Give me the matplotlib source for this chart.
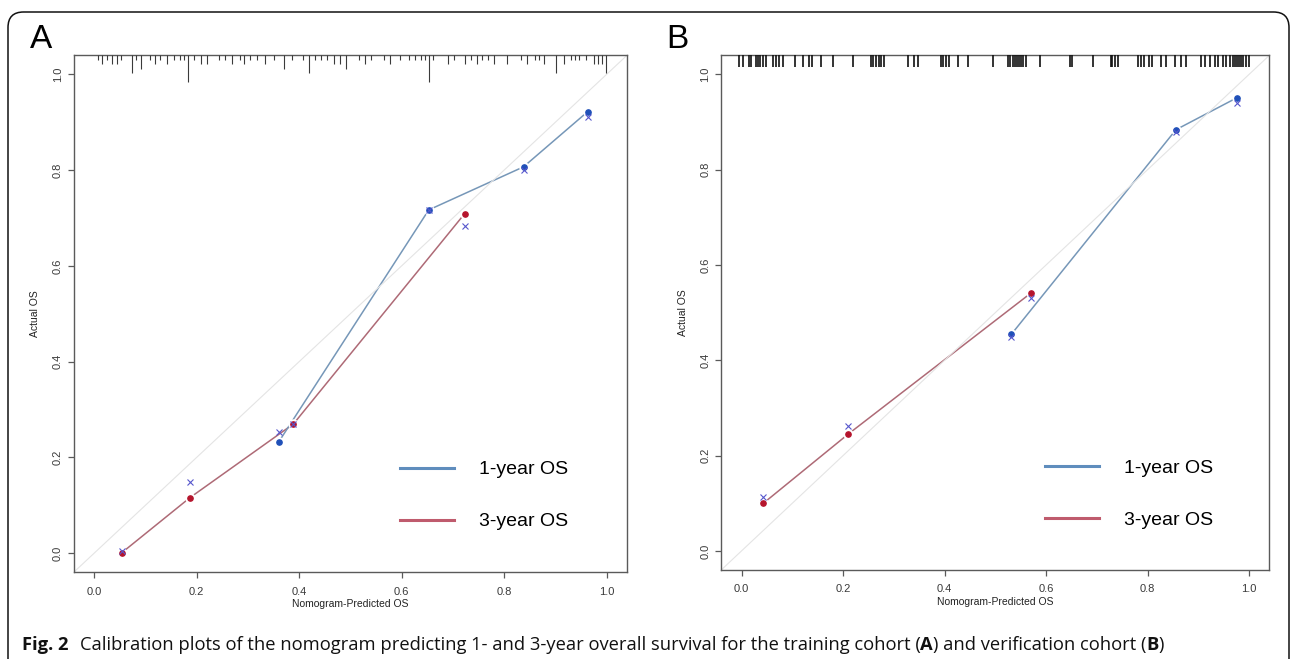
import matplotlib
matplotlib.use("Agg")
import matplotlib.pyplot as plt
from matplotlib.lines import Line2D
from matplotlib.patches import FancyBboxPatch

plt.rcParams['font.family'] = ['Liberation Sans', 'DejaVu Sans']

# ---- training cohort (A)
a_1yr_pred = [0.360, 0.653, 0.838, 0.963]
a_1yr_obs = [0.232, 0.717, 0.807, 0.922]
a_1yr_corr = [0.253, 0.717, 0.801, 0.912]
a_3yr_pred = [0.054, 0.187, 0.389, 0.723]
a_3yr_obs = [0.001, 0.116, 0.270, 0.709]
a_3yr_corr = [0.004, 0.148, 0.270, 0.684]

# distribution of predicted values (rug on top), with relative frequency
a_rug_pos = [0.007, 0.015, 0.025, 0.034, 0.044, 0.053, 0.073, 0.081, 0.091, 0.108,
             0.119, 0.129, 0.142, 0.155, 0.167, 0.175, 0.183, 0.195, 0.208, 0.220,
             0.244, 0.256, 0.269, 0.285, 0.293, 0.305, 0.317, 0.334, 0.350, 0.370,
             0.386, 0.407, 0.419, 0.431, 0.443, 0.455, 0.468, 0.480, 0.492, 0.516,
             0.528, 0.541, 0.565, 0.577, 0.597, 0.614, 0.626, 0.638, 0.646, 0.654,
             0.662, 0.691, 0.703, 0.723, 0.735, 0.748, 0.756, 0.768, 0.780, 0.805,
             0.833, 0.845, 0.861, 0.869, 0.878, 0.902, 0.918, 0.930, 0.938, 0.947,
             0.959, 0.975, 0.983, 0.991, 0.999]
a_rug_freq = [1, 2, 1, 2, 2, 1, 4, 1, 3, 1,
              2, 1, 2, 1, 1, 1, 6, 1, 2, 2,
              1, 1, 2, 1, 2, 1, 1, 2, 1, 3,
              1, 1, 4, 1, 1, 1, 2, 2, 3, 1,
              2, 1, 1, 2, 1, 1, 1, 1, 1, 6,
              1, 2, 1, 2, 1, 2, 1, 1, 2, 2,
              1, 2, 1, 1, 2, 4, 2, 1, 1, 1,
              1, 2, 2, 2, 4]

# ---- verification cohort (B)
b_1yr_pred = [0.532, 0.856, 0.976]
b_1yr_obs = [0.455, 0.884, 0.951]
b_1yr_corr = [0.448, 0.880, 0.941]
b_3yr_pred = [0.043, 0.210, 0.570]
b_3yr_obs = [0.100, 0.245, 0.541]
b_3yr_corr = [0.113, 0.263, 0.530]

b_rug_pos = [-0.004, 0.002, 0.014, 0.018, 0.028, 0.033, 0.036, 0.042, 0.049, 0.063,
             0.068, 0.073, 0.081, 0.105, 0.122, 0.133, 0.139, 0.157, 0.181, 0.220,
             0.256, 0.260, 0.265, 0.270, 0.275, 0.281, 0.329, 0.340, 0.348, 0.394,
             0.398, 0.402, 0.408, 0.426, 0.446, 0.495, 0.526, 0.529, 0.534, 0.538,
             0.543, 0.547, 0.551, 0.555, 0.561, 0.588, 0.648, 0.652, 0.693, 0.728,
             0.731, 0.736, 0.741, 0.782, 0.788, 0.794, 0.802, 0.808, 0.826, 0.836,
             0.854, 0.866, 0.875, 0.905, 0.913, 0.923, 0.933, 0.939, 0.949, 0.955,
             0.963, 0.968, 0.972, 0.976, 0.980, 0.984, 0.988, 0.994, 1.000]

ticks = [0.0, 0.2, 0.4, 0.6, 0.8, 1.0]
tick_labels = ["0.0", "0.2", "0.4", "0.6", "0.8", "1.0"]
series_names = ["1-year OS", "3-year OS"]

blue_line = "#7697b8"
red_line = "#ae6a76"
blue_leg = "#5f8dbd"
red_leg = "#bf5b6d"
blue_dot = "#1f50b8"
red_dot = "#b5142c"
x_col = "#5656cc"

fig = plt.figure(figsize=(12.92, 6.59), dpi=100)
W, H = 1292, 659


def px_axes(l, t, r, b):
    return fig.add_axes([l / W, 1 - b / H, (r - l) / W, (b - t) / H])


def calib(ax, pred, obs, corr, lc, dc):
    ax.plot(pred, obs, color=lc, lw=1.1, zorder=2)
    ax.plot(pred, obs, ls="none", marker="o", ms=7.5, mfc="white", mec="none", zorder=3)
    ax.plot(pred, obs, ls="none", marker="o", ms=3.8, mfc=dc, mec=dc, zorder=4)
    ax.plot(pred, corr, ls="none", marker="x", ms=4.5, mew=0.8, color=x_col, zorder=5)


def style(ax, rug_pos, rug_len, rug_lw, rug_col):
    ax.set_xlim(-0.04, 1.04)
    ax.set_ylim(-0.04, 1.04)
    ax.plot([-0.04, 1.04], [-0.04, 1.04], color="#e4e4e4", lw=0.8, zorder=2.5)
    ax.vlines(rug_pos, [1.04 - h for h in rug_len], 1.04, colors=rug_col, lw=rug_lw, zorder=6)
    for s in ax.spines.values():
        s.set_color("#5a5a5a")
        s.set_linewidth(1.0)
    ax.set_xticks(ticks)
    ax.set_xticklabels(tick_labels)
    ax.set_yticks(ticks)
    ax.set_yticklabels(tick_labels)
    ax.tick_params(length=4.3, width=0.9, color="#5a5a5a", labelsize=8,
                   labelcolor="#3a3a3a")
    ax.tick_params(axis="x", pad=6)
    ax.tick_params(axis="y", pad=3.5, labelrotation=90)
    for lab in ax.get_yticklabels():
        lab.set_va("center")
    ax.set_xlabel("Nomogram-Predicted OS", fontsize=7.5, color="#222222", labelpad=2)
    ax.set_ylabel("Actual OS", fontsize=7.5, color="#222222", labelpad=9)
    handles = [Line2D([], [], color=blue_leg, lw=2.2), Line2D([], [], color=red_leg, lw=2.2)]
    ax.legend(handles, series_names, loc="upper left", frameon=False, fontsize=14,
              handlelength=2.78, handletextpad=1.3, labelspacing=1.76,
              borderpad=0, borderaxespad=0, bbox_to_anchor=(0.590, 0.2155))


# panel A
axA = px_axes(73.7, 55.3, 627.0, 572.3)
calib(axA, a_3yr_pred, a_3yr_obs, a_3yr_corr, red_line, red_dot)
calib(axA, a_1yr_pred, a_1yr_obs, a_1yr_corr, blue_line, blue_dot)
unit = 4.5 / 479
style(axA, a_rug_pos, [f * unit for f in a_rug_freq], 0.8, "#3a3a3a")

# panel B
axB = px_axes(721.2, 55.4, 1269.3, 570.0)
calib(axB, b_3yr_pred, b_3yr_obs, b_3yr_corr, red_line, red_dot)
calib(axB, b_1yr_pred, b_1yr_obs, b_1yr_corr, blue_line, blue_dot)
style(axB, b_rug_pos, [12 / 476.5] * len(b_rug_pos), 1.2, "#111111")

fig.text(41 / W, 1 - 40 / H, "A", fontsize=24, ha="center", va="center")
fig.text(677 / W, 1 - 40 / H, "B", fontsize=24, ha="center", va="center")

# outer rounded frame
frame = FancyBboxPatch((8 / W, -20 / H), 1281 / W, (659 - 12 + 20) / H,
                       boxstyle="round,pad=0,rounding_size=0.012",
                       transform=fig.transFigure, fill=False, ec="#111111", lw=1.1,
                       mutation_aspect=W / H)
fig.patches.append(frame)

# caption with bold pieces
pieces = [("Fig. 2", "bold", 11),
          ("Calibration plots of the nomogram predicting 1- and 3-year overall survival "
           "for the training cohort (", "normal", 0),
          ("A", "bold", 0),
          (") and verification cohort (", "normal", 0),
          ("B", "bold", 0),
          (")", "normal", 0)]
renderer = fig.canvas.get_renderer()
xpos = 22
for txt, wt, gap in pieces:
    t = fig.text(xpos / W, 1 - 645 / H, txt, fontsize=13.2, fontweight=wt,
                 family=["Open Sans", "DejaVu Sans"], va="center", ha="left", color="#111111")
    bb = t.get_window_extent(renderer=renderer)
    xpos += bb.width + gap

fig.savefig("out.png", dpi=100)
